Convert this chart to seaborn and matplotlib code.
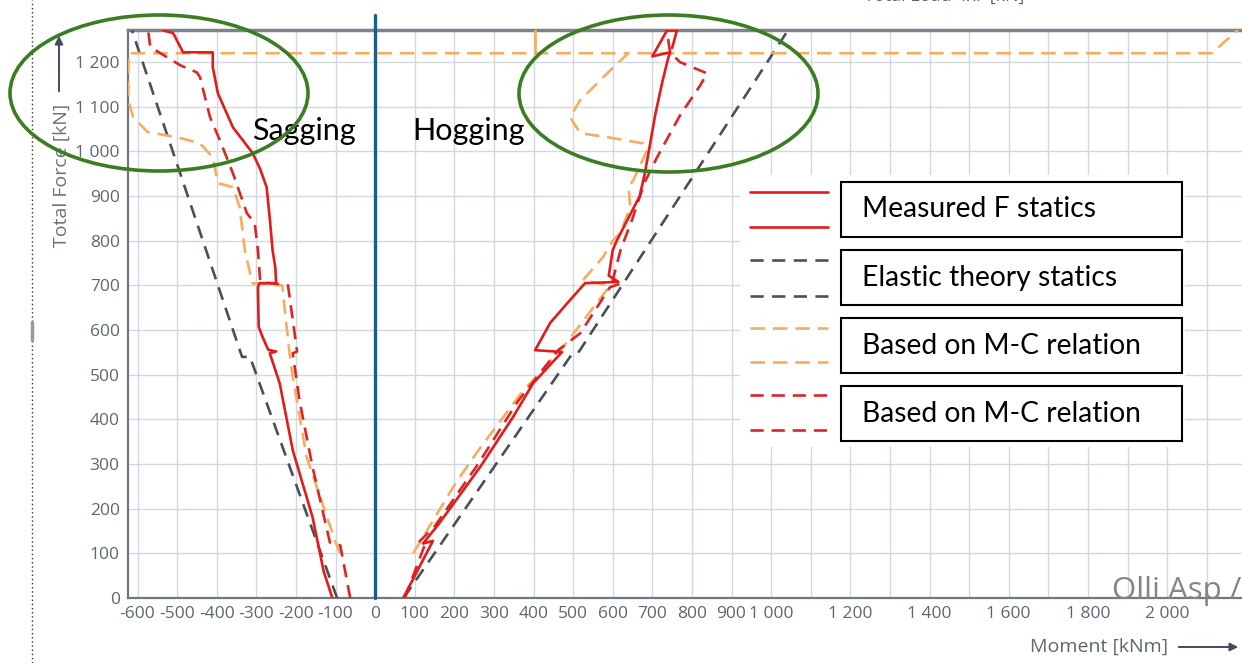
import matplotlib
matplotlib.use("Agg")
import matplotlib.pyplot as plt
import seaborn as sns
import pandas as pd
from matplotlib.patches import Ellipse, Rectangle, FancyArrowPatch
from matplotlib.lines import Line2D
from matplotlib.ticker import FixedLocator, FuncFormatter

sns.set_theme(style="white")
plt.rcParams['font.family'] = ['Open Sans', 'DejaVu Sans']

# ---------------- data (Moment kNm, Total force kN) ----------------
sag_meas_M = [-108, -130, -158, -208, -241, -266, -250, -270, -284, -294, -296, -292, -250, -252, -259,
              -266, -274, -290, -309, -359, -397, -410, -410, -485, -510, -535]
sag_meas_F = [0, 60, 181, 331, 481, 548, 552, 556, 584, 607, 696, 705, 705, 740, 779,
              850, 920, 960, 996, 1054, 1130, 1189, 1222, 1222, 1265, 1271]

hog_meas_M = [71, 146, 121, 160, 265, 348, 399, 472, 404, 442, 485, 530, 614, 590, 600, 610, 668,
              681, 696, 707, 725, 740, 745, 700, 737, 762, 750]
hog_meas_F = [0, 128, 122, 165, 293, 405, 481, 551, 555, 616, 660, 705, 708, 722, 779, 800, 900,
              951, 1025, 1081, 1155, 1209, 1222, 1213, 1271, 1271, 1232]

sag_el_M = [-96, -316, -336, -614]
sag_el_F = [0, 540, 540, 1271]
hog_el_M = [72, 500, 515, 1040]
hog_el_F = [0, 550, 552, 1268]

sag_or_M = [-88, -100, -173, -208, -216, -235, -310, -329, -342, -359, -397, -410, -442, -492,
            -575, -611, -623, -623, 405, 405, 405, 639]
sag_or_F = [100, 125, 316, 495, 548, 700, 705, 779, 875, 920, 929, 987, 1018, 1030,
            1044, 1077, 1115, 1220, 1220, 1271, 1220, 1220]
hog_or_M = [96, 203, 261, 369, 475, 585, 590, 525, 575, 600, 619, 644, 640, 652, 687, 677, 586,
            518, 492, 518, 586, 626, 639, 2113, 2185]
hog_or_F = [100, 257, 331, 459, 562, 690, 700, 712, 763, 800, 817, 875, 920, 936, 1003, 1018, 1032,
            1041, 1077, 1115, 1175, 1209, 1220, 1220, 1278]

sag_mc_M = [-63, -88, -114, -158, -191, -208, -197, -220, -227, -290, -296, -304, -324, -359,
            -392, -417, -442, -450, -492, -568, -573]
sag_mc_F = [0, 118, 124, 293, 443, 548, 552, 700, 702, 707, 779, 839, 862, 951,
            1025, 1077, 1166, 1177, 1193, 1234, 1271]
hog_mc_M = [75, 125, 110, 150, 260, 360, 462, 518, 593, 620, 600, 620, 650, 680, 712, 770, 821,
            838, 770, 745, 740, 735]
hog_mc_F = [0, 118, 125, 160, 300, 440, 555, 593, 696, 704, 712, 780, 850, 930, 987, 1081, 1148,
            1175, 1200, 1222, 1250, 1271]

x_major = [-600, -500, -400, -300, -200, -100, 0, 100, 200, 300, 400, 500, 600, 700, 800, 900,
           1000, 1200, 1400, 1600, 1800, 2000]
x_grid = list(range(-600, 2200, 100))
y_major = list(range(0, 1300, 100))

legend_labels = ["Measured F statics", "Elastic theory statics",
                 "Based on M-C relation", "Based on M-C relation"]

RED = "#e31b1b"
RED_D = "#dc2626"
ORANGE = "#f5ad62"
GRAY = "#4b5056"
GRID = "#d3d8e0"

# ---------------- figure ----------------
W, H = 1242, 663
fig = plt.figure(figsize=(W / 100, H / 100), dpi=100)
ax = fig.add_axes([128 / W, 65 / H, 1114 / W, 568 / H])
ax.set_xlim(-624, 2189)
ax.set_ylim(0, 1272)

series = [
    (sag_el_M, sag_el_F, GRAY, (0, (5, 3.2))),
    (hog_el_M, hog_el_F, GRAY, (0, (5, 3.2))),
    (sag_or_M, sag_or_F, ORANGE, (0, (5.5, 3))),
    (hog_or_M, hog_or_F, ORANGE, (0, (5.5, 3))),
    (sag_mc_M, sag_mc_F, RED_D, (0, (5, 3))),
    (hog_mc_M, hog_mc_F, RED_D, (0, (5, 3))),
    (sag_meas_M, sag_meas_F, RED, "-"),
    (hog_meas_M, hog_meas_F, RED, "-"),
]
for i, (m, f, c, ls) in enumerate(series):
    df = pd.DataFrame({"M": m, "F": f})
    sns.lineplot(data=df, x="M", y="F", sort=False, estimator=None, ax=ax,
                 color=c, linestyle=ls, linewidth=1.9, zorder=3 + i * 0.1)

# vertical grid lines every 100 kNm, horizontal every 100 kN
for gx in x_grid:
    ax.axvline(gx, color=GRID, linewidth=1.0, zorder=0.5)
for gy in y_major:
    ax.axhline(gy, color=GRID, linewidth=1.0, zorder=0.5)

ax.xaxis.set_major_locator(FixedLocator(x_major))
ax.yaxis.set_major_locator(FixedLocator(y_major))
fmt = FuncFormatter(lambda v, p: f"{int(v):,}".replace(",", " "))
ax.xaxis.set_major_formatter(fmt)
ax.yaxis.set_major_formatter(fmt)
ax.grid(False)
ax.tick_params(axis="both", which="both", length=0, labelsize=12.5, labelcolor="#5f6670")
ax.tick_params(axis="x", pad=6)
ax.tick_params(axis="y", pad=6)
ax.set_xlabel("")
ax.set_ylabel("")

ax.spines["right"].set_visible(False)
ax.spines["top"].set_color("#7d838b")
ax.spines["top"].set_linewidth(2.5)
ax.spines["left"].set_color("#6f7783")
ax.spines["left"].set_linewidth(1.6)
ax.spines["bottom"].set_color("#6f7783")
ax.spines["bottom"].set_linewidth(1.6)

# white area behind legend
ax.add_patch(Rectangle((0.5494, 0.2658), 0.3994, 0.4789, transform=ax.transAxes,
                       facecolor="white", edgecolor="none", zorder=1.5))

# zero line
ax.axvline(0, ymin=0, ymax=(598 - 15) / 568, color="#1d5e88", linewidth=2.4,
           clip_on=False, zorder=6)

# legend (custom boxes)
boxes = [(0.6356, 0.7148, 0.6532), (0.5158, 0.5951, 0.5317),
         (0.3961, 0.4754, 0.4155), (0.2764, 0.3574, 0.2958)]
leg_styles = [(RED, "-"), (GRAY, (0, (5, 3.2))), (ORANGE, (0, (5.5, 3))), (RED_D, (0, (5, 3)))]
for (y0, l1, l2), lab, (c, ls) in zip(boxes, legend_labels, leg_styles):
    ax.add_patch(Rectangle((0.640, y0), 0.3061, 0.0968, transform=ax.transAxes,
                           facecolor="white", edgecolor="black", linewidth=1.5, zorder=7))
    for ly in (l1, l2):
        ax.add_line(Line2D([0.5583, 0.6284], [ly, ly], transform=ax.transAxes,
                           color=c, linestyle=ls, linewidth=1.9, zorder=7))
    ax.text(0.6589, y0 + 0.0484, lab, transform=ax.transAxes, ha="left", va="center",
            fontsize=20.3, family=["Lato", "DejaVu Sans"], color="black", zorder=8)

# annotations
fig.text(252 / W, 1 - 131 / H, "Sagging", ha="left", va="center", fontsize=22,
         family=["Lato", "DejaVu Sans"], color="black")
fig.text(412 / W, 1 - 131 / H, "Hogging", ha="left", va="center", fontsize=22,
         family=["Lato", "DejaVu Sans"], color="black")

for cx, cy, w, h in [(159, 93, 298, 156), (668.5, 93.5, 299, 157)]:
    fig.add_artist(Ellipse((cx / W, 1 - cy / H), w / W, h / H, transform=fig.transFigure,
                           fill=False, edgecolor="#3a7d22", linewidth=2.6, zorder=10))

# axis titles with arrows
fig.text(62 / W, 1 - 175 / H, "Total Force [kN]", rotation=90, ha="center", va="center",
         fontsize=14, color="#6b727b")
fig.add_artist(FancyArrowPatch((59 / W, 1 - 94 / H), (59 / W, 1 - 33 / H),
               transform=fig.transFigure, arrowstyle="-|>", mutation_scale=12,
               color="#3f4b5e", linewidth=1.4))
fig.text(1099 / W, 1 - 647 / H, "Moment [kNm]", ha="center", va="center",
         fontsize=14, color="#5f6670")
fig.add_artist(FancyArrowPatch((1176 / W, 1 - 647 / H), (1241 / W, 1 - 647 / H),
               transform=fig.transFigure, arrowstyle="-|>", mutation_scale=12,
               color="#3f4b5e", linewidth=1.4))
fig.text(944 / W, 1 - 1 / H, "Total Load 4xF [kN]", ha="center", va="baseline",
         fontsize=13, color="#5f6670")

fig.text(1112 / W, 1 - 591 / H, "Olli Asp /", ha="left", va="center", fontsize=22.5,
         color="#858585")

# dotted margin line
fig.add_artist(Line2D([32 / W, 32 / W], [0, 1], transform=fig.transFigure, color="#333333",
                      linestyle=(0, (1, 2)), linewidth=1.0))
fig.add_artist(Line2D([32 / W, 32 / W], [1 - 322 / H, 1 - 340 / H], transform=fig.transFigure,
                      color="#999999", linewidth=2.5))

fig.savefig("out.png", dpi=100)
